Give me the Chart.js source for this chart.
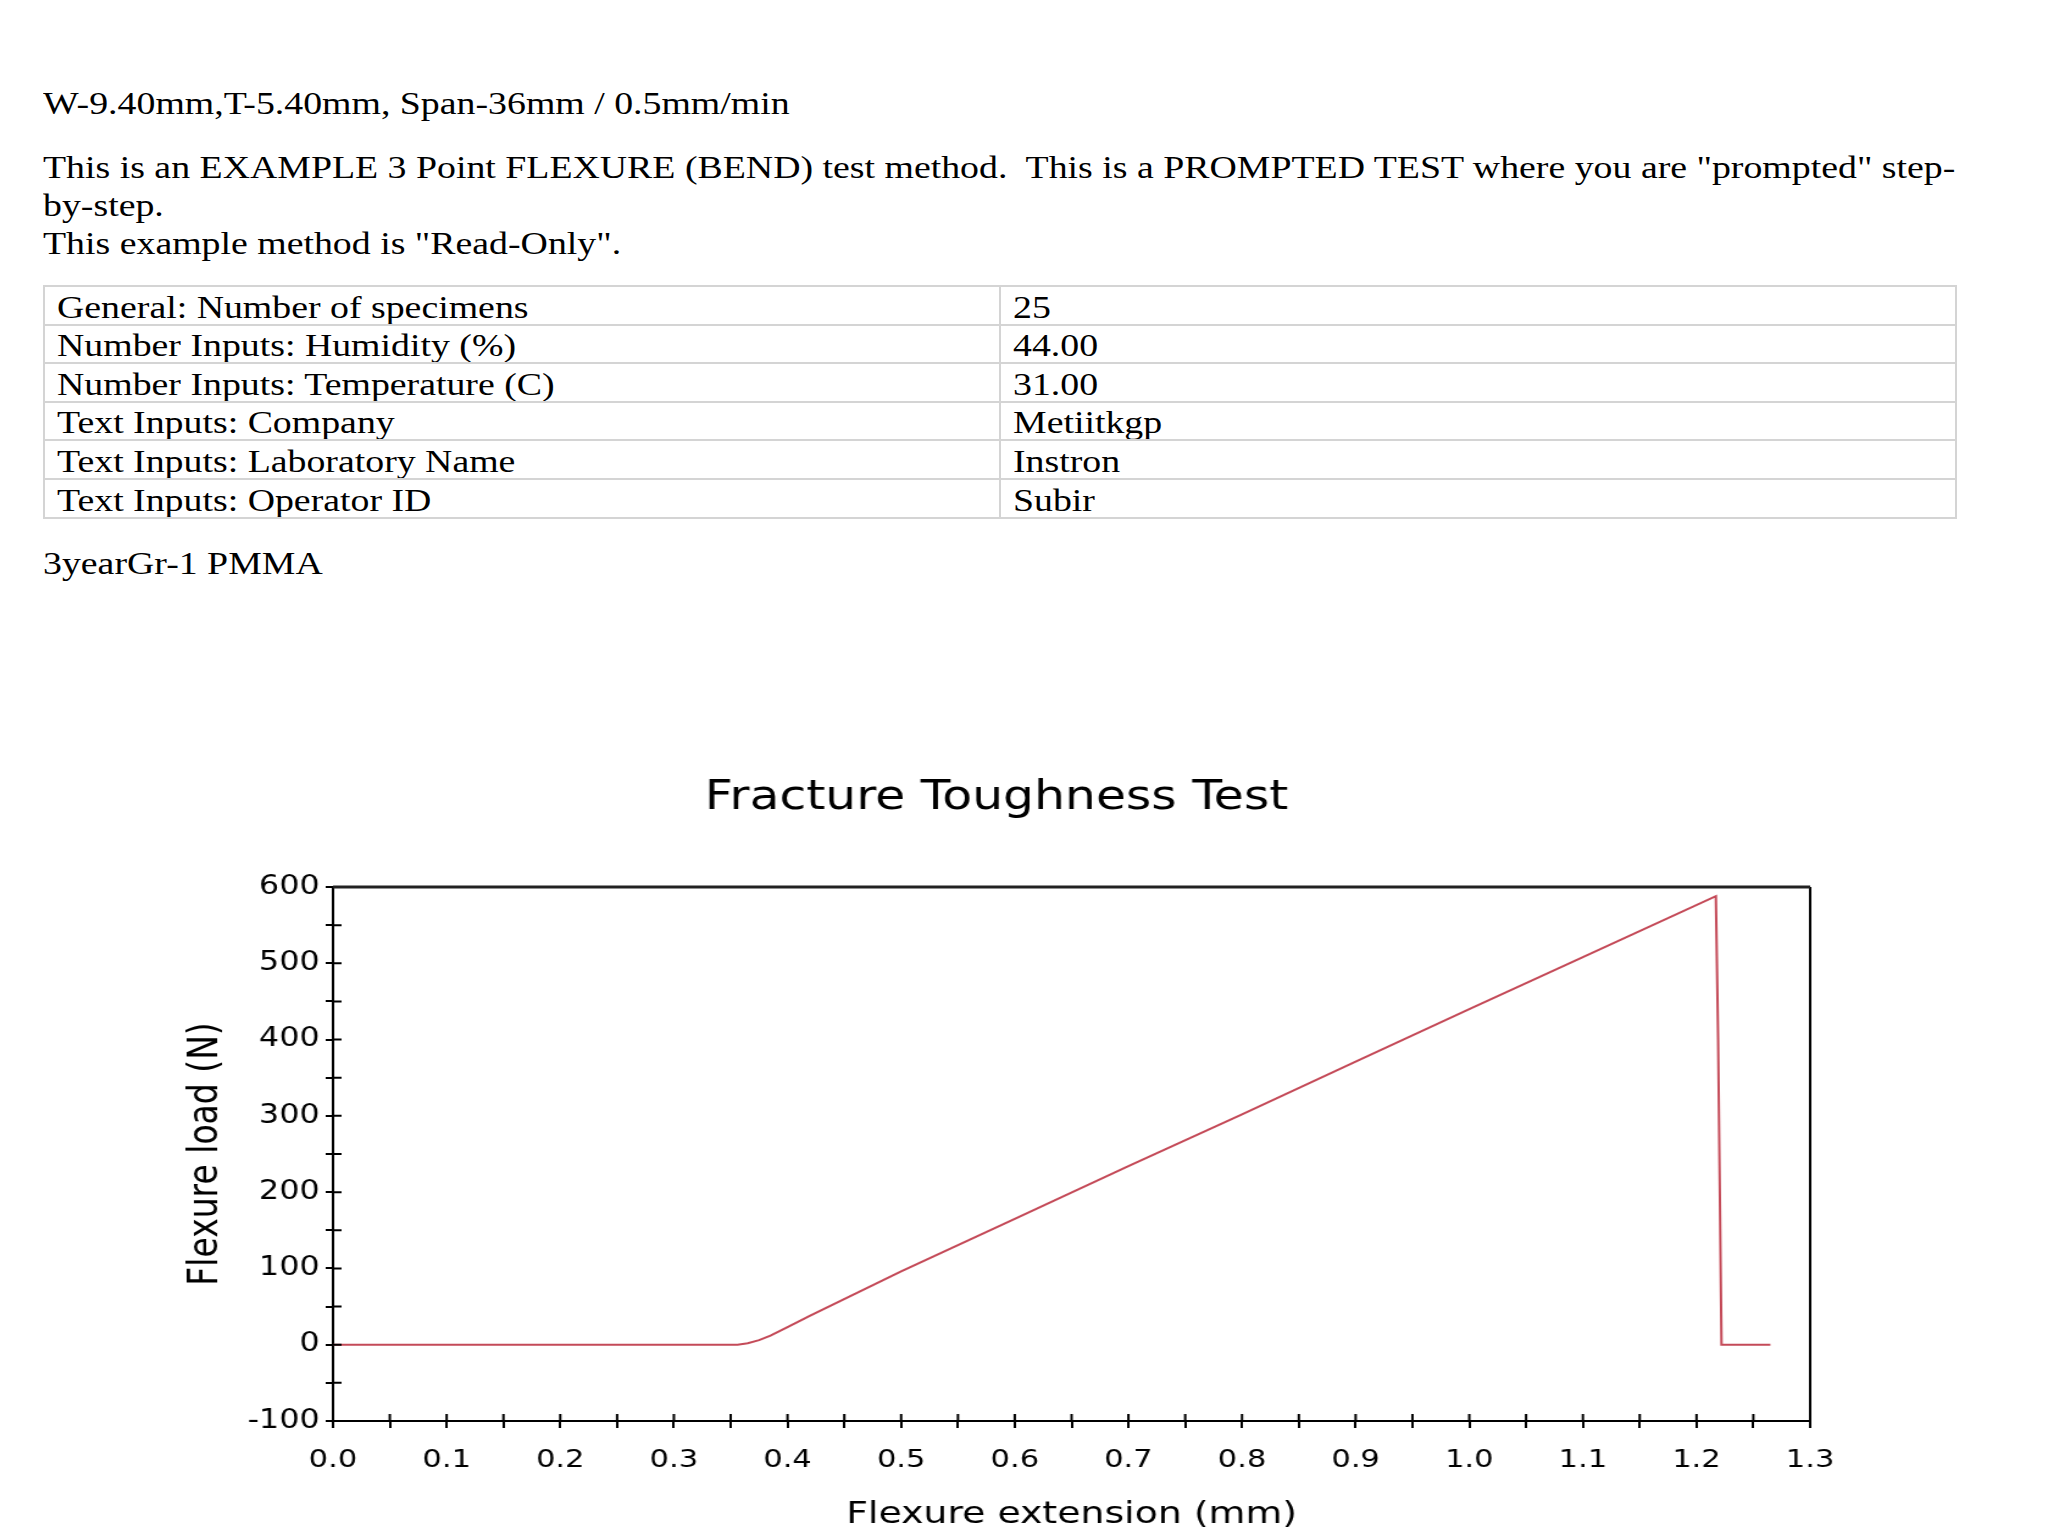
<!DOCTYPE html>
<html>
<head>
<meta charset="utf-8">
<script src="https://cdn.jsdelivr.net/npm/chart.js@4.4.0/dist/chart.umd.min.js"></script>
<style>
  html, body { margin: 0; padding: 0; background: #fff; }
  body { width: 2048px; height: 1536px; position: relative; overflow: hidden; font-family: "Liberation Serif", "Times New Roman", serif; color: #000; }
  .ln { position: absolute; left: 43px; font-size: 31px; line-height: 38px; white-space: nowrap; }
  .sx { display: inline-block; transform: scaleX(1.22); transform-origin: 0 50%; white-space: nowrap; }
  table { position: absolute; left: 43px; top: 285px; width: 1914px; border-collapse: collapse; font-size: 31px; table-layout: fixed; }
  td { border: 2px solid #d4d4d4; height: 36.6px; padding: 0 0 0 12px; line-height: 33px; vertical-align: bottom; white-space: nowrap; overflow: hidden; }
  td.k { width: 942px; }
  #wrap { position: absolute; left: 0; top: 740px; width: 2048px; height: 796px; }
  #c { position: absolute; left: 0; top: 0; width: 2048px; height: 796px; }
</style>
</head>
<body>
<div class="ln" style="top:85px"><span class="sx">W-9.40mm,T-5.40mm, Span-36mm / 0.5mm/min</span></div>
<div class="ln" style="top:149px"><span class="sx">This is an EXAMPLE 3 Point FLEXURE (BEND) test method.&nbsp; This is a PROMPTED TEST where you are "prompted" step-</span></div>
<div class="ln" style="top:187px"><span class="sx">by-step.</span></div>
<div class="ln" style="top:225px"><span class="sx">This example method is "Read-Only".</span></div>
<table id="tbl"></table>
<div class="ln" style="top:545px"><span class="sx">3yearGr-1 PMMA</span></div>
<div id="wrap"><canvas id="c" width="1679" height="796" style="width:2048px;height:796px"></canvas></div>
<script>
// ---- table data ----
const infoLabels = ["General: Number of specimens", "Number Inputs: Humidity (%)", "Number Inputs: Temperature (C)", "Text Inputs: Company", "Text Inputs: Laboratory Name", "Text Inputs: Operator ID"];
const infoValues = ["25", "44.00", "31.00", "Metiitkgp", "Instron", "Subir"];

// ---- chart data ----
const chartTitle = "Fracture Toughness Test";
const xTitle = "Flexure extension (mm)";
const yTitle = "Flexure load (N)";
const extension = [0, 0.10, 0.20, 0.30, 0.356, 0.365, 0.375, 0.385, 0.40, 0.42, 0.50, 0.60, 0.70, 0.80, 0.90, 1.00, 1.10, 1.217, 1.219, 1.222, 1.265];
const load      = [0, 0,    0,    0,    0,     2,     6,     12,    23,   38,   96,   165,  234,  302,  371,  440,  508,  588,   400,   0,     0];
const xMin = 0, xMax = 1.3, xStep = 0.05;
const yMin = -100, yMax = 600, yStep = 50;

const tbl = document.getElementById('tbl');
infoLabels.forEach((k, i) => {
  const tr = document.createElement('tr');
  const a = document.createElement('td'); a.className = 'k';
  const sa = document.createElement('span'); sa.className = 'sx'; sa.textContent = k; a.appendChild(sa);
  const b = document.createElement('td');
  const sb = document.createElement('span'); sb.className = 'sx'; sb.textContent = infoValues[i]; b.appendChild(sb);
  tr.appendChild(a); tr.appendChild(b); tbl.appendChild(tr);
});

const points = extension.map((x, i) => ({ x: x, y: load[i] }));

const frameTicks = {
  id: 'frameTicks',
  afterDraw(chart) {
    const { ctx, chartArea: ca, scales } = chart;
    ctx.save();
    ctx.strokeStyle = '#000';
    ctx.lineWidth = 2;
    ctx.beginPath();
    ctx.moveTo(ca.right, ca.top); ctx.lineTo(ca.right, ca.bottom);
    scales.x.ticks.forEach(t => {
      const px = scales.x.getPixelForValue(t.value);
      ctx.moveTo(px, ca.bottom); ctx.lineTo(px, ca.bottom - 7);
    });
    scales.y.ticks.forEach(t => {
      const py = scales.y.getPixelForValue(t.value);
      ctx.moveTo(ca.left, py); ctx.lineTo(ca.left + 7, py);
    });
    ctx.stroke();
    ctx.lineWidth = 3;
    ctx.strokeStyle = '#222';
    ctx.beginPath();
    ctx.moveTo(ca.left, ca.top); ctx.lineTo(ca.right, ca.top);
    ctx.stroke();
    ctx.restore();
  }
};

new Chart(document.getElementById('c'), {
  type: 'line',
  data: {
    datasets: [{
      data: points,
      borderColor: '#c44a58',
      borderWidth: 2,
      pointRadius: 0,
      tension: 0,
      fill: false
    }]
  },
  options: {
    responsive: false,
    animation: false,
    devicePixelRatio: 1,
    layout: { padding: { left: 150, right: 195, top: 0, bottom: 0 } },
    plugins: {
      legend: { display: false },
      tooltip: { enabled: false },
      title: {
        display: true,
        text: chartTitle,
        color: '#000',
        font: { family: 'DejaVu Sans', size: 40, weight: 'normal', lineHeight: 1.2 },
        padding: { top: 35, bottom: 64 }
      }
    },
    scales: {
      x: {
        type: 'linear',
        min: xMin, max: xMax,
        afterFit(s) { s.height = 115; },
        border: { display: true, color: '#000', width: 2 },
        grid: { display: true, drawOnChartArea: false, drawTicks: true, tickLength: 7, color: '#000', lineWidth: 2 },
        ticks: {
          stepSize: xStep, autoSkip: false, maxRotation: 0, padding: 17, color: '#000',
          font: { family: 'DejaVu Sans', size: 25 },
          callback(v) { const r = Math.round(v * 100); return r % 10 === 0 ? (r / 100).toFixed(1) : ''; }
        },
        title: {
          display: true, text: xTitle, color: '#000',
          font: { family: 'DejaVu Sans', size: 31, lineHeight: 1.2 },
          padding: { top: 0, bottom: 2 }
        }
      },
      y: {
        type: 'linear',
        min: yMin, max: yMax,
        afterFit(s) { s.width = 123; },
        border: { display: true, color: '#000', width: 2 },
        grid: { display: true, drawOnChartArea: false, drawTicks: true, tickLength: 6, color: '#000', lineWidth: 2 },
        ticks: {
          stepSize: yStep, autoSkip: false, padding: 5, color: '#000',
          font: { family: 'DejaVu Sans', size: 26 },
          callback(v) { return Math.round(v) % 100 === 0 ? String(Math.round(v)) : ''; }
        },
        title: {
          display: true, text: yTitle, color: '#000',
          font: { family: 'DejaVu Sans', size: 33, lineHeight: 1.2 },
          padding: { top: 0, bottom: 0 }
        }
      }
    }
  },
  plugins: [frameTicks]
});
</script>
</body>
</html>
